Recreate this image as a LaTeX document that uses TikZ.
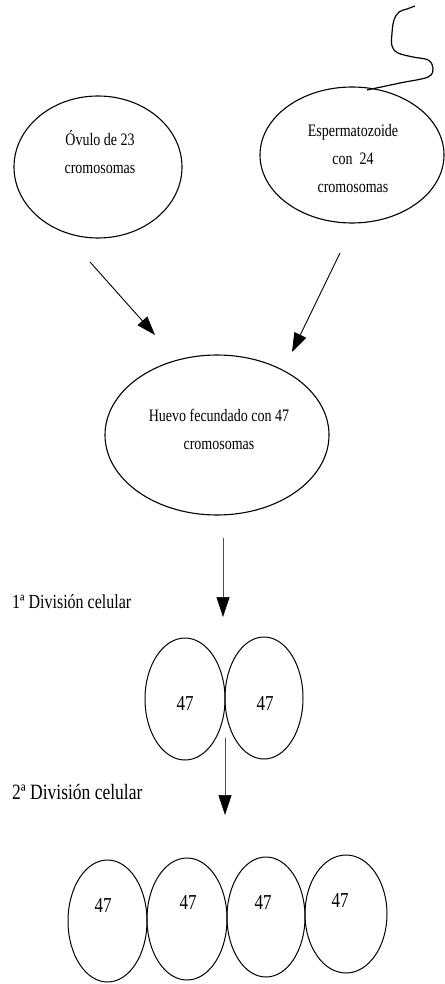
\documentclass[tikz,border=0pt]{standalone}
\usepackage{graphicx}
\usepackage{fontspec}
\setmainfont{Liberation Serif}
\usetikzlibrary{shapes.geometric,arrows.meta}
\newcommand{\tx}[1]{\scalebox{1}[1.25]{#1}}
\begin{document}
\begin{tikzpicture}[x=1pt,y=-1pt,
  cell/.style={draw, ellipse, line width=1pt, inner sep=0pt, minimum width=80pt, minimum height=122pt},
  big/.style={draw, ellipse, line width=1.1pt, inner sep=0pt},
  lbl/.style={align=center, font=\fontsize{14}{28}\selectfont, inner sep=0pt},
  num/.style={font=\fontsize{17}{20}\selectfont, inner sep=0pt},
  divlbl/.style={anchor=west, inner sep=0pt},
  arr/.style={line width=0.9pt, -{Triangle[width=13pt,length=19pt]}},
  varr/.style={line width=0.6pt, black!70, -{Triangle[width=13pt,length=20pt,black]}}
]
\useasboundingbox (0,0) rectangle (444,984);

% gametes
\node[big, minimum width=168pt, minimum height=142pt] (ovulo) at (98,167) {};
\node[lbl] (tovulo) at (100,152) {\tx{Óvulo de 23}\\\tx{cromosomas}};
\node[big, minimum width=184pt, minimum height=136pt] (esperma) at (352,155) {};
\node[lbl] (tesperma) at (353,159) {\tx{Espermatozoide}\\\tx{con\ \ 24}\\\tx{cromosomas}};

% tail
\coordinate (t0) at (367,90);
\draw[line width=1.2pt] plot[smooth, tension=0.6] coordinates {(t0) (400,83) (428,77) (433,68) (428,60) (413,57) (398,53) (392,46) (392,33) (394,20) (399,12) (407,9) (415,6)};

% zygote
\node[big, minimum width=224pt, minimum height=160pt] (huevo) at (217,435) {};
\node[lbl] (thuevo) at (219,429) {\tx{Huevo fecundado con 47}\\\tx{cromosomas}};

\coordinate (a1s) at (90,262);
\coordinate (a1e) at (155,335);
\coordinate (a2s) at (340,253);
\coordinate (a2e) at (292,352);
\draw[arr] (a1s) -- (a1e);
\draw[arr] (a2s) -- (a2e);

% first division
\coordinate (v1s) at (223,538);
\coordinate (v1e) at (223,617);
\draw[varr] (v1s) -- (v1e);
\node[divlbl, font=\fontsize{16}{18}\selectfont] (d1) at (12,602) {\tx{1ª División celular}};

\node[cell, minimum width=80pt] (c1) at (185,699) {};
\node[cell, minimum width=78pt] (c2) at (264,698) {};
\node[num] (n1) at (185,703) {\tx{47}};
\node[num] (n2) at (265,703) {\tx{47}};

% second division
\coordinate (v2s) at (225,738);
\coordinate (v2e) at (225,815);
\draw[varr] (v2s) -- (v2e);
\node[divlbl, font=\fontsize{17.5}{20}\selectfont] (d2) at (12,792) {\tx{2ª División celular}};

\node[cell, minimum width=79pt, minimum height=122pt] (e1) at (107.5,921) {};
\node[cell, minimum width=80pt, minimum height=122pt] (e2) at (187,919) {};
\node[cell, minimum width=78pt, minimum height=120pt] (e3) at (266,917) {};
\node[cell, minimum width=82pt, minimum height=118pt] (e4) at (346,914) {};
\node[num] (m1) at (103,905) {\tx{47}};
\node[num] (m2) at (188,902) {\tx{47}};
\node[num] (m3) at (263,902) {\tx{47}};
\node[num] (m4) at (340,900) {\tx{47}};
\end{tikzpicture}
\end{document}
